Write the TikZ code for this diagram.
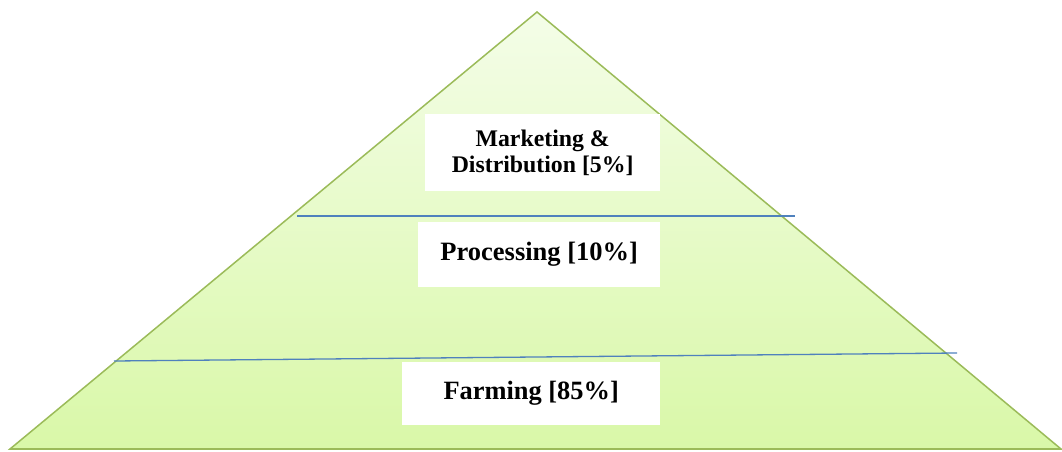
\documentclass[tikz,border=0pt]{standalone}
\usepackage{fontspec}
\setmainfont{Liberation Serif}
\usetikzlibrary{positioning}
\definecolor{pyrline}{HTML}{9BBB59}
\definecolor{pyrtop}{HTML}{F4FDE8}
\definecolor{pyrbot}{HTML}{D9F8A8}
\definecolor{sepline}{HTML}{4F81BD}
\tikzset{
  lbl/.style={fill=white, inner sep=0pt, font=\bfseries, align=center, anchor=north west},
  sep/.style={draw=sepline, line width=1.3pt}
}
\begin{document}
\begin{tikzpicture}[x=1pt,y=-1pt]
\useasboundingbox (0,0) rectangle (1062,452);
% pyramid
\shade[top color=pyrtop, bottom color=pyrbot] (537,12) -- (1061,449) -- (10,449) -- cycle;
\draw[pyrline, line width=1.5pt, line join=miter] (537,12) -- (1061,449) -- (10,449) -- cycle;
\draw[pyrline, line width=2.5pt] (10,449) -- (1061,449);
% separators
\coordinate (s1l) at (297,216);
\coordinate (s1r) at (795,216);
\coordinate (s2l) at (114,361);
\coordinate (s2r) at (957,353);
\draw[sep] (s1l) -- (s1r);
\draw[sep] (s2l) -- (s2r);
% labels
\node[lbl, minimum width=235pt, minimum height=77pt, font=\fontsize{23.8}{26}\selectfont\bfseries] (mkt) at (425,114) {Marketing \&\\Distribution [5\%]};
\node[lbl, minimum width=242pt, minimum height=65pt, font=\fontsize{26.5}{30}\selectfont\bfseries] (proc) at (418,222) {Processing [10\%]};
\node[lbl, minimum width=258pt, minimum height=63pt, font=\fontsize{26.4}{30}\selectfont\bfseries] (farm) at (402,362) {Farming [85\%]};
\end{tikzpicture}
\end{document}
